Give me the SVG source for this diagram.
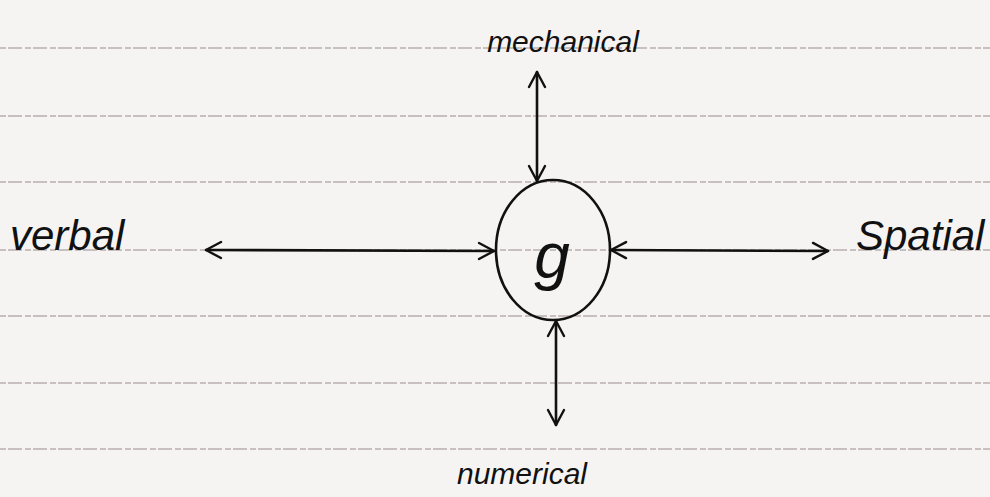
<svg xmlns="http://www.w3.org/2000/svg" width="990" height="497" viewBox="0 0 990 497">
<style>
.paper{fill:#f6f4f3}
.rule{stroke:#b9afae;stroke-width:1.5;stroke-dasharray:6 2 14 3}
.ink{stroke:#111;stroke-width:2.6;fill:none;stroke-linecap:round;stroke-linejoin:round}
.lbl{font-family:"Liberation Sans","DejaVu Sans",sans-serif;fill:#111}
</style>
<defs>
<marker id="ah" viewBox="0 0 20 20" refX="17" refY="10" markerWidth="20" markerHeight="20" markerUnits="userSpaceOnUse" orient="auto-start-reverse">
<path d="M2,2 L17,10 L2,18" fill="none" stroke="#111" stroke-width="2.4" stroke-linecap="round" stroke-linejoin="round"/>
</marker>
</defs>
<rect class="paper" width="990" height="497"/>
<g id="rules">
<line class="rule" x1="0" y1="48" x2="990" y2="48"/>
<line class="rule" x1="0" y1="116" x2="990" y2="116"/>
<line class="rule" x1="0" y1="182" x2="990" y2="182"/>
<line class="rule" x1="0" y1="250" x2="990" y2="250"/>
<line class="rule" x1="0" y1="316" x2="990" y2="316"/>
<line class="rule" x1="0" y1="383" x2="990" y2="383"/>
<line class="rule" x1="0" y1="449" x2="990" y2="449"/>
</g>
<g id="connectors">
<line class="ink" x1="537" y1="72" x2="537" y2="181" marker-start="url(#ah)" marker-end="url(#ah)"/>
<line class="ink" x1="556" y1="321" x2="556" y2="425" marker-start="url(#ah)" marker-end="url(#ah)"/>
<line class="ink" x1="206" y1="250" x2="494" y2="251" marker-start="url(#ah)" marker-end="url(#ah)"/>
<line class="ink" x1="611" y1="250" x2="828" y2="251" marker-start="url(#ah)" marker-end="url(#ah)"/>
</g>
<g id="g">
<ellipse class="ink" cx="553" cy="250" rx="57" ry="70"/>
<text class="lbl" x="552" y="278" font-size="64" font-style="italic" text-anchor="middle">g</text>
</g>
<g id="mechanical">
<text class="lbl" x="563" y="52" font-size="30" font-style="italic" text-anchor="middle">mechanical</text>
</g>
<g id="verbal">
<text class="lbl" x="10" y="250" font-size="42" font-style="italic">verbal</text>
</g>
<g id="spatial">
<text class="lbl" x="856" y="250" font-size="42" font-style="italic">Spatial</text>
</g>
<g id="numerical">
<text class="lbl" x="522" y="484" font-size="30" font-style="italic" text-anchor="middle">numerical</text>
</g>
</svg>
